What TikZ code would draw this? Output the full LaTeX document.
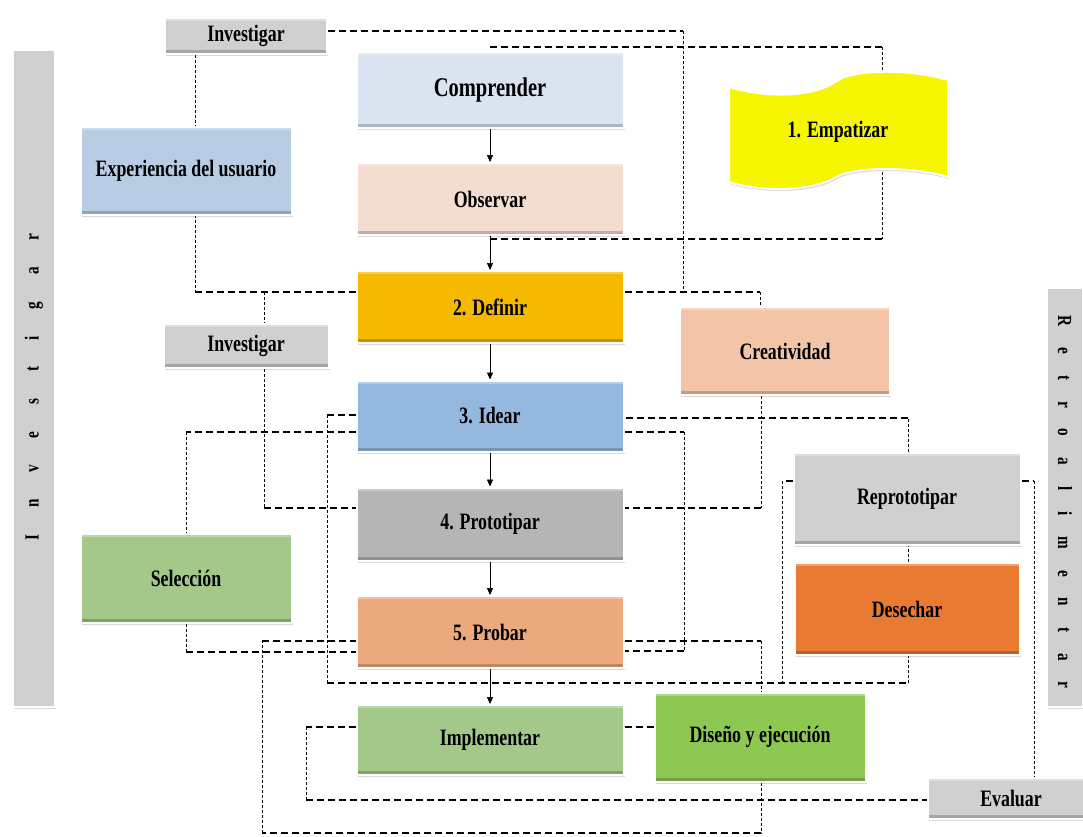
\documentclass[tikz,border=0pt]{standalone}
\usepackage{fontspec}
\setmainfont{Liberation Serif}[FakeStretch=0.76]
\usetikzlibrary{arrows.meta,shadows,backgrounds}

\definecolor{grisinv}{HTML}{D0D0D0}
\definecolor{azulcomp}{HTML}{DAE4F0}
\definecolor{rosaobs}{HTML}{F2DDD0}
\definecolor{azulexp}{HTML}{B8CCE4}
\definecolor{amarillo}{HTML}{F6F600}
\definecolor{ambar}{HTML}{F5BA00}
\definecolor{salmon}{HTML}{F2C5A8}
\definecolor{azulidea}{HTML}{95B9DE}
\definecolor{grisproto}{HTML}{B5B5B5}
\definecolor{naranja}{HTML}{E97A31}
\definecolor{verdesel}{HTML}{A3C88A}
\definecolor{durazno}{HTML}{EBAA7E}
\definecolor{verdedis}{HTML}{8DC853}

\newcommand{\gapL}{\hspace{26.8pt}}
\newcommand{\gapR}{\hspace{21pt}}

\begin{document}
\begin{tikzpicture}[
  x=1pt, y=-1pt,
  caja/.style={rectangle, draw=white, line width=2pt, inner sep=0pt,
    minimum width=267, minimum height=72, text centered,
    font=\bfseries\fontsize{23.5}{25}\selectfont,
    drop shadow={opacity=.3, shadow xshift=1pt, shadow yshift=-2pt},
    path picture={
      \fill[black,opacity=.2] (path picture bounding box.south west) rectangle ([yshift=4pt]path picture bounding box.south east);
      \fill[white,opacity=.3] (path picture bounding box.north west) rectangle ([yshift=-3pt]path picture bounding box.north east);
    }},
  barra/.style={caja, fill=grisinv, font=\bfseries\fontsize{20}{21}\selectfont},
  linea/.style={line width=1.6pt, dash pattern=on 7pt off 4pt},
  guia/.style={line width=.6pt, dash pattern=on 3pt off 2pt},
  flecha/.style={-{Triangle[length=7pt,width=6pt]}, line width=.7pt}
]
\useasboundingbox (0,0) rectangle (1083,836);

% Central column
\node[caja, fill=azulcomp, font=\bfseries\fontsize{27}{29}\selectfont, minimum height=76] (comp) at (490,90) {Comprender};
\node[caja, fill=rosaobs] (obs) at (490,199) {Observar};
\node[caja, fill=ambar] (def) at (490,307) {2. Definir};
\node[caja, fill=azulidea, minimum height=71] (idear) at (490,416) {3. Idear};
\node[caja, fill=grisproto, minimum height=73] (proto) at (490,524) {4. Prototipar};
\node[caja, fill=durazno] (probar) at (490,632) {5. Probar};
\node[caja, fill=verdesel, minimum height=70] (impl) at (490,740) {Implementar};

% Side boxes
\node[caja, fill=grisinv, minimum width=162, minimum height=36] (inv1) at (246,36) {Investigar};
\node[caja, fill=azulexp, minimum width=211, minimum height=88] (exp) at (186,171) {Experiencia del usuario};
\node[caja, fill=grisinv, minimum width=165, minimum height=44] (inv2) at (246,346) {Investigar};
\node[caja, fill=salmon, minimum width=210, minimum height=88] (crea) at (785,351) {Creatividad};
\node[caja, fill=grisinv, minimum width=227, minimum height=92] (repro) at (907,499) {Reprototipar};
\node[caja, fill=naranja, minimum width=225, minimum height=92] (desech) at (907,609) {Desechar};
\node[caja, fill=verdesel, minimum width=211, minimum height=89] (selec) at (186,578) {Selección};
\node[caja, fill=verdedis, minimum width=211, minimum height=89] (disen) at (760,737) {Diseño y ejecución};
\node[caja, fill=grisinv, minimum width=167, minimum height=41] (eval) at (1011,798) {Evaluar};

% Vertical bars
\node[barra, rotate=90, minimum width=657, minimum height=42] (barL) at (34,378)
  {I\gapL n\gapL v\gapL e\gapL s\gapL t\gapL i\gapL g\gapL a\gapL r\kern18pt};
\node[barra, rotate=-90, minimum width=419, minimum height=36] (barR) at (1065,497)
  {\kern10pt R\gapR e\gapR t\gapR r\gapR o\gapR a\gapR l\gapR i\gapR m\gapR e\gapR n\gapR t\gapR a\gapR r};

% Empatizar banner
\path[fill=amarillo, draw=white, line width=2pt,
  drop shadow={opacity=.3, shadow xshift=1pt, shadow yshift=-2pt}]
  (729,87) .. controls (765,98) and (815,98) .. (838,80)
  .. controls (860,68) and (915,70) .. (948,80) -- (948,177)
  .. controls (915,167) and (860,166) .. (838,176)
  .. controls (815,191) and (765,193) .. (729,182) -- cycle;
\node[font=\bfseries\fontsize{23.5}{25}\selectfont] (emp) at (838,132) {1. Empatizar};

% Arrows
\draw[flecha] (comp) -- (obs);
\draw[flecha] (obs) -- (def);
\draw[flecha] (def) -- (idear);
\draw[flecha] (idear) -- (proto);
\draw[flecha] (proto) -- (probar);
\draw[flecha] (probar) -- (impl);

% Corner points
\coordinate (kA1) at (683,31);  \coordinate (kA2) at (683,292);
\coordinate (kB1) at (882,47);  \coordinate (kB2) at (882,239);
\coordinate (kC1) at (195,292); \coordinate (kC2) at (760,292);
\coordinate (kD1) at (264,292); \coordinate (kD2) at (264,508);
\coordinate (kE1) at (327,415); \coordinate (kE2) at (327,683);
\coordinate (kE3) at (908,683); \coordinate (kE4) at (908,418);
\coordinate (kF1) at (186,432); \coordinate (kF2) at (186,652);
\coordinate (kF3) at (684,432); \coordinate (kF4) at (684,651);
\coordinate (kG1) at (761,508);
\coordinate (kH1) at (761,641); \coordinate (kH2) at (761,833);
\coordinate (kH3) at (262,833); \coordinate (kH4) at (262,641);
\coordinate (kI1) at (306,727); \coordinate (kI2) at (306,800);
\coordinate (kJ1) at (1034,481); \coordinate (kJ2) at (782,481);
\coordinate (kJ3) at (782,683);

% Dashed links
\begin{scope}[on background layer]
\draw[linea] (kA1 -| inv1.east) -- (kA1);
\draw[guia] (kA1) -- (kA2);

\draw[linea] (kB1 -| comp.north) -- (kB1);
\draw[guia] (kB1) -- (kB2);
\draw[linea] (kB2) -- (kB2 -| obs.south);

\draw[guia] (kC1 |- inv1.south) -- (kC1);
\draw[linea] (kC1) -- (kC1 -| def.west);
\draw[linea] (kC2 -| def.east) -- (kC2);
\draw[guia] (kC2) -- (kC2 |- crea.north);

\draw[guia] (kD1) -- (kD1 |- inv2.north);
\draw[guia] (kD1 |- inv2.south) -- (kD2);
\draw[linea] (kD2) -- (kD2 -| proto.west);

\draw[linea] (kE1 -| idear.west) -- (kE1);
\draw[guia] (kE1) -- (kE2);
\draw[linea] (kE2) -- (kE3);
\draw[guia] (kE3) -- (kE3 |- desech.south);
\draw[guia] (kE3 |- desech.north) -- (kE3 |- repro.south);
\draw[guia] (kE4 |- repro.north) -- (kE4);
\draw[linea] (kE4) -- (kE4 -| idear.east);

\draw[linea] (kF1 -| idear.west) -- (kF1);
\draw[guia] (kF1) -- (kF1 |- selec.north);
\draw[guia] (kF1 |- selec.south) -- (kF2);
\draw[linea] (kF2) -- (kF2 -| probar.west);
\draw[linea] (kF3 -| idear.east) -- (kF3);
\draw[guia] (kF3) -- (kF4);
\draw[linea] (kF4) -- (kF4 -| probar.east);

\draw[guia] (kG1 |- crea.south) -- (kG1);
\draw[linea] (kG1) -- (kG1 -| proto.east);

\draw[linea] (kH1 -| probar.east) -- (kH1);
\draw[guia] (kH1) -- (kH1 |- disen.north);
\draw[guia] (kH1 |- disen.south) -- (kH2);
\draw[linea] (kH2) -- (kH3);
\draw[guia] (kH3) -- (kH4);
\draw[linea] (kH4) -- (kH4 -| probar.west);

\draw[linea] (kI1 -| impl.west) -- (kI1);
\draw[guia] (kI1) -- (kI2);
\draw[linea] (kI2) -- (kI2 -| eval.west);
\draw[linea] (impl.east |- kI1) -- (disen.west |- kI1);

\draw[linea, line width=1.2pt] (kJ1 -| repro.east) -- (kJ1);
\draw[guia] (kJ1) -- (kJ1 |- eval.north);
\draw[linea, line width=1.2pt] (kJ2 -| repro.west) -- (kJ2);
\draw[guia] (kJ2) -- (kJ3);
\end{scope}

\end{tikzpicture}
\end{document}
